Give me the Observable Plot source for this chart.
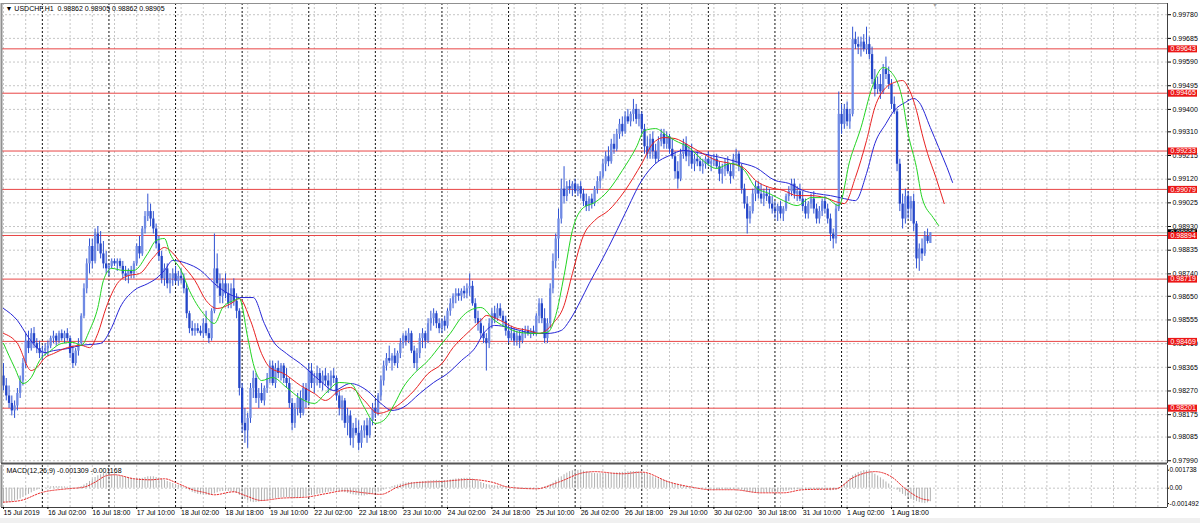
<!DOCTYPE html>
<html><head><meta charset="utf-8">
<script src="https://cdn.jsdelivr.net/npm/d3@7"></script>
<script src="https://cdn.jsdelivr.net/npm/@observablehq/plot@0.6"></script>
<style>
html,body{margin:0;padding:0;background:#fff;}
#chart{position:relative;width:1200px;height:523px;overflow:hidden;background:#fff;font-family:"Liberation Sans",Arial,sans-serif;}
#chart svg{position:absolute;left:0;}
#strip{position:absolute;left:0;top:518px;width:1200px;height:5px;background:#f0f0f0;}
</style></head><body><div id="chart"><div id="strip"></div></div>
<script>
// ---- data (prices in 1e-5 units, bar index 0 = 15 Jul 2019 10:00, H1) ----
const opens = [
98330,98290,98250,98220,98190,98210,98260,98310,98380,98470,
98440,98500,98460,98440,98420,98430,98440,98450,98480,98490,
98470,98500,98480,98500,98480,98420,98380,98430,98460,98570,
98680,98780,98850,98790,98900,98860,98820,98780,98760,98770,
98790,98780,98790,98770,98740,98730,98750,98740,98780,98850,
98820,98920,98970,98990,98960,98920,98860,98810,98720,98760,
98700,98720,98740,98710,98730,98720,98680,98580,98520,98510,
98520,98510,98500,98540,98500,98480,98590,98760,98700,98650,
98700,98660,98620,98680,98630,98590,98280,98140,98110,98160,
98280,98320,98240,98260,98230,98280,98320,98370,98300,98360,
98340,98370,98320,98300,98220,98140,98200,98240,98180,98280,
98230,98350,98300,98320,98340,98300,98330,98310,98290,98330,
98320,98250,98200,98230,98140,98170,98080,98120,98100,98060,
98110,98130,98090,98150,98200,98180,98250,98310,98370,98400,
98390,98410,98380,98420,98460,98490,98470,98500,98430,98380,
98420,98480,98500,98470,98540,98560,98580,98540,98520,98550,
98530,98590,98620,98650,98660,98650,98670,98660,98680,98690,
98620,98560,98540,98500,98480,98460,98540,98580,98560,98600,
98570,98550,98510,98480,98500,98470,98490,98470,98500,98510,
98500,98510,98500,98570,98620,98560,98480,98540,98680,98790,
98880,98960,99080,99050,99090,99080,99100,99070,99090,99060,
99030,99010,99040,99020,99080,99110,99130,99180,99210,99190,
99260,99240,99300,99340,99310,99370,99350,99380,99400,99360,
99380,99320,99250,99220,99280,99230,99200,99270,99300,99260,
99290,99240,99210,99150,99120,99220,99260,99210,99230,99180,
99200,99190,99170,99180,99200,99180,99190,99200,99170,99140,
99160,99180,99150,99130,99200,99220,99170,99080,99020,98960,
98990,99060,99090,99060,99040,99060,99050,99020,99000,98990,
99010,98980,99000,99050,99070,99100,99060,99070,99040,99010,
98980,99020,99040,99000,98960,98990,99030,99000,98960,98900,
98880,99000,99380,99340,99400,99350,99380,99680,99660,99650,
99670,99640,99660,99620,99520,99480,99500,99470,99560,99540,
99500,99420,99390,99180,99020,98960,99050,99000,99030,98940,
98800,98840,98820,98890,98862];
const highs = [
98380,98320,98290,98250,98230,98280,98330,98400,98500,98510,
98520,98525,98480,98470,98450,98460,98470,98490,98510,98500,
98510,98515,98510,98520,98490,98450,98440,98480,98580,98700,
98800,98880,98880,98920,98930,98910,98870,98830,98780,98800,
98800,98800,98800,98790,98770,98760,98770,98790,98860,98890,
98930,98990,99060,99020,98990,98940,98890,98830,98780,98780,
98740,98760,98770,98750,98760,98740,98700,98590,98550,98540,
98540,98530,98560,98590,98520,98600,98900,98820,98740,98720,
98740,98700,98700,98720,98660,98600,98300,98200,98180,98300,
98350,98340,98280,98300,98290,98340,98390,98390,98380,98390,
98380,98380,98360,98320,98240,98220,98260,98270,98300,98300,
98380,98380,98340,98370,98360,98350,98360,98340,98350,98360,
98330,98270,98250,98240,98200,98190,98140,98160,98150,98130,
98150,98160,98160,98220,98230,98260,98330,98390,98420,98450,
98420,98440,98430,98480,98500,98510,98520,98510,98450,98440,
98500,98520,98510,98560,98590,98600,98590,98560,98560,98570,
98600,98640,98660,98680,98680,98680,98690,98700,98740,98710,
98640,98590,98560,98530,98500,98560,98600,98610,98620,98620,
98590,98570,98540,98530,98520,98510,98510,98520,98530,98530,
98520,98530,98580,98640,98640,98600,98560,98700,98820,98900,
99000,99120,99170,99110,99115,99110,99120,99100,99110,99080,
99060,99050,99060,99090,99130,99150,99200,99230,99250,99280,
99300,99320,99360,99370,99390,99400,99390,99440,99420,99400,
99390,99340,99290,99300,99310,99260,99290,99320,99320,99310,
99300,99280,99230,99190,99240,99280,99290,99250,99260,99220,
99230,99210,99200,99210,99230,99210,99220,99220,99190,99180,
99200,99210,99180,99220,99240,99230,99180,99100,99050,99010,
99080,99110,99110,99100,99080,99090,99080,99050,99030,99020,
99030,99010,99060,99090,99120,99120,99090,99100,99070,99040,
99030,99060,99070,99020,99010,99040,99050,99020,98980,98920,
99020,99470,99420,99420,99430,99400,99730,99710,99690,99690,
99700,99730,99690,99650,99560,99530,99540,99580,99610,99570,
99520,99450,99400,99200,99060,99080,99070,99050,99060,98950,
98860,98880,98910,98920,98905];
const lows = [
98270,98230,98200,98170,98160,98190,98240,98290,98360,98420,
98430,98440,98420,98400,98390,98410,98410,98440,98460,98450,
98460,98470,98460,98470,98400,98360,98370,98410,98450,98560,
98660,98740,98760,98780,98830,98800,98760,98740,98730,98760,
98770,98750,98760,98720,98710,98700,98720,98720,98770,98800,
98810,98900,98950,98930,98900,98840,98790,98700,98690,98680,
98660,98690,98700,98690,98700,98660,98560,98500,98490,98490,
98500,98490,98480,98490,98460,98470,98580,98680,98620,98620,
98640,98600,98600,98610,98560,98250,98100,98060,98040,98140,
98240,98220,98200,98220,98210,98260,98300,98290,98280,98320,
98310,98300,98280,98200,98110,98120,98170,98160,98170,98200,
98210,98280,98260,98290,98280,98270,98290,98260,98270,98300,
98230,98170,98150,98120,98090,98050,98040,98090,98030,98040,
98080,98060,98080,98130,98160,98170,98230,98290,98350,98380,
98350,98370,98360,98400,98440,98450,98460,98420,98360,98350,
98400,98440,98440,98460,98510,98530,98520,98500,98500,98510,
98520,98570,98600,98620,98630,98630,98640,98640,98650,98610,
98540,98510,98480,98460,98350,98440,98520,98540,98550,98560,
98530,98490,98460,98470,98450,98450,98440,98460,98480,98490,
98480,98490,98490,98540,98540,98460,98460,98520,98660,98760,
98800,98940,99020,99030,99060,99050,99060,99050,99040,99010,
98990,98990,99000,99010,99060,99080,99120,99150,99170,99180,
99220,99230,99280,99290,99300,99340,99330,99350,99340,99330,
99300,99220,99200,99200,99200,99180,99190,99250,99240,99240,
99220,99200,99120,99080,99110,99200,99190,99170,99160,99150,
99170,99150,99140,99160,99170,99150,99170,99160,99110,99100,
99130,99140,99100,99120,99180,99150,99060,99000,98900,98940,
98980,99030,99040,99020,99010,99030,99000,98980,98960,98950,
98960,98950,98990,99030,99050,99040,99030,99030,98990,98960,
98960,99000,98980,98940,98940,98970,98980,98940,98870,98840,
98860,98990,99300,99320,99330,99320,99370,99640,99620,99610,
99630,99620,99600,99500,99450,99460,99440,99460,99520,99480,
99400,99380,99150,98990,98920,98940,98960,98950,98910,98760,
98750,98790,98810,98860,98862];
const closes = [
98290,98250,98220,98190,98210,98260,98310,98380,98470,98440,
98500,98460,98440,98420,98430,98440,98450,98480,98490,98470,
98500,98480,98500,98480,98420,98380,98430,98460,98570,98680,
98780,98850,98790,98900,98860,98820,98780,98760,98770,98790,
98780,98790,98770,98740,98730,98750,98740,98780,98850,98820,
98920,98970,98990,98960,98920,98860,98810,98720,98760,98700,
98720,98740,98710,98730,98720,98680,98580,98520,98510,98520,
98510,98500,98540,98500,98480,98590,98760,98700,98650,98700,
98660,98620,98680,98630,98590,98280,98140,98110,98160,98280,
98320,98240,98260,98230,98280,98320,98370,98300,98360,98340,
98370,98320,98300,98220,98140,98200,98240,98180,98280,98230,
98350,98300,98320,98340,98300,98330,98310,98290,98330,98320,
98250,98200,98230,98140,98170,98080,98120,98100,98060,98110,
98130,98090,98150,98200,98180,98250,98310,98370,98400,98390,
98410,98380,98420,98460,98490,98470,98500,98430,98380,98420,
98480,98500,98470,98540,98560,98580,98540,98520,98550,98530,
98590,98620,98650,98660,98650,98670,98660,98680,98690,98620,
98560,98540,98500,98480,98460,98540,98580,98560,98600,98570,
98550,98510,98480,98500,98470,98490,98470,98500,98510,98500,
98510,98500,98570,98620,98560,98480,98540,98680,98790,98880,
98960,99080,99050,99090,99080,99100,99070,99090,99060,99030,
99010,99040,99020,99080,99110,99130,99180,99210,99190,99260,
99240,99300,99340,99310,99370,99350,99380,99400,99360,99380,
99320,99250,99220,99280,99230,99200,99270,99300,99260,99290,
99240,99210,99150,99120,99220,99260,99210,99230,99180,99200,
99190,99170,99180,99200,99180,99190,99200,99170,99140,99160,
99180,99150,99130,99200,99220,99170,99080,99020,98960,98990,
99060,99090,99060,99040,99060,99050,99020,99000,98990,99010,
98980,99000,99050,99070,99100,99060,99070,99040,99010,98980,
99020,99040,99000,98960,98990,99030,99000,98960,98900,98880,
99000,99380,99340,99400,99350,99380,99680,99660,99650,99670,
99640,99660,99620,99520,99480,99500,99470,99560,99540,99500,
99420,99390,99180,99020,98960,99050,99000,99030,98940,98800,
98840,98820,98890,98870,98905];

// Alligator lines: [bar, price x1e5]
const jaw = [[0,98601],[5,98553],[9,98485],[12,98444],[15,98424],[18,98432],[23,98440],[28,98453],[35,98461],[39,98525],[42,98605],[47,98673],[52,98701],[55,98721],[58,98754],[61,98794],[66,98782],[71,98754],[76,98701],[81,98661],[85,98645],[90,98645],[94,98541],[97,98473],[102,98420],[107,98380],[114,98312],[119,98272],[125,98300],[131,98272],[136,98220],[140,98192],[144,98204],[150,98260],[155,98304],[160,98340],[165,98392],[170,98444],[173,98501],[177,98533],[182,98525],[186,98513],[191,98501],[196,98501],[201,98513],[204,98553],[208,98633],[211,98700],[215,98782],[218,98846],[224,98982],[230,99115],[235,99183],[240,99215],[245,99235],[250,99227],[255,99215],[260,99203],[265,99187],[271,99167],[278,99115],[283,99103],[288,99075],[293,99062],[298,99054],[303,99042],[307,99034],[311,99143],[314,99263],[318,99343],[321,99396],[325,99428],[328,99444],[330,99428],[334,99327],[337,99247],[340,99167],[342,99107]];
const teeth = [[0,98501],[5,98461],[10,98352],[12,98364],[15,98404],[18,98420],[23,98444],[28,98453],[31,98444],[34,98501],[37,98605],[41,98701],[45,98733],[49,98741],[54,98806],[58,98846],[60,98834],[64,98782],[69,98713],[73,98633],[77,98601],[82,98621],[85,98641],[89,98553],[93,98420],[96,98364],[101,98340],[107,98292],[112,98260],[116,98232],[121,98272],[125,98284],[130,98232],[135,98180],[139,98192],[143,98220],[148,98272],[153,98340],[158,98380],[162,98444],[167,98501],[172,98553],[174,98573],[179,98553],[184,98525],[189,98513],[193,98501],[198,98541],[202,98613],[205,98741],[209,98894],[213,98954],[218,98994],[224,99075],[230,99183],[234,99263],[238,99287],[242,99283],[247,99255],[252,99223],[257,99195],[262,99183],[267,99163],[271,99115],[276,99087],[281,99075],[286,99054],[291,99054],[296,99046],[301,99026],[303,99022],[307,99127],[311,99275],[314,99408],[318,99488],[321,99508],[324,99516],[326,99488],[329,99396],[331,99303],[333,99223],[336,99127],[339,99022]];
const lips = [[0,98461],[4,98364],[7,98300],[10,98324],[13,98392],[17,98432],[21,98461],[25,98465],[28,98453],[31,98513],[34,98605],[36,98713],[39,98762],[43,98754],[47,98754],[52,98822],[55,98874],[58,98882],[60,98822],[64,98754],[67,98673],[72,98581],[76,98541],[79,98605],[83,98633],[85,98641],[88,98485],[90,98380],[93,98312],[97,98324],[102,98284],[107,98240],[112,98220],[116,98260],[121,98304],[125,98300],[130,98204],[134,98140],[137,98152],[141,98220],[144,98284],[148,98340],[153,98392],[158,98461],[161,98501],[165,98565],[168,98593],[172,98605],[177,98553],[182,98521],[186,98505],[191,98501],[196,98505],[199,98573],[202,98733],[205,98914],[209,99006],[213,99026],[218,99075],[223,99155],[228,99247],[231,99315],[235,99323],[239,99295],[242,99275],[247,99247],[252,99195],[257,99163],[262,99183],[267,99155],[271,99087],[276,99062],[281,99034],[286,99014],[291,99046],[296,99046],[301,99014],[305,99195],[309,99327],[313,99488],[317,99568],[320,99548],[324,99436],[326,99303],[329,99167],[331,99046],[335,98966],[337,98934]];

// MACD(12,26,9) main line per bar (x1e-6) and signal line read at points [bar, x1e-6]
const macdMain = [
-1490,-1450,-1400,-1330,-1250,-1150,-1050,-900,-750,-600,
-450,-320,-200,-110,-20,40,100,130,150,150,
150,140,120,90,60,40,20,80,150,300,
450,650,850,1030,1200,1300,1400,1390,1380,1310,
1250,1200,1150,1100,1050,1000,950,920,900,920,
950,1030,1100,1100,1100,1030,950,850,750,650,
550,450,350,270,200,50,-100,-250,-400,-500,
-600,-630,-650,-680,-700,-630,-550,-450,-350,-320,
-300,-320,-350,-420,-500,-700,-900,-1080,-1250,-1330,
-1400,-1380,-1350,-1300,-1250,-1180,-1100,-1050,-1000,-980,
-950,-930,-900,-950,-1000,-1000,-1000,-950,-900,-830,
-750,-700,-650,-600,-550,-500,-450,-400,-350,-330,
-300,-320,-350,-430,-500,-580,-650,-700,-750,-750,
-750,-700,-650,-580,-500,-400,-300,-180,-50,50,
150,230,300,380,450,500,550,550,550,580,
600,630,650,680,700,730,750,730,700,730,
750,800,850,880,900,930,950,950,950,880,
800,680,550,450,350,300,250,230,200,180,
150,100,50,0,-50,-80,-100,-100,-100,-100,
-100,-80,-50,0,50,120,200,350,500,700,
900,1100,1300,1450,1600,1680,1738,1720,1700,1650,
1600,1530,1450,1420,1400,1400,1400,1400,1400,1420,
1450,1480,1500,1530,1550,1580,1600,1600,1600,1550,
1500,1400,1300,1200,1100,1000,900,830,750,680,
600,480,350,300,250,200,150,100,50,30,
0,-30,-50,-80,-100,-100,-100,-130,-150,-150,
-150,-150,-150,-130,-100,-150,-200,-300,-400,-430,
-450,-450,-450,-450,-450,-450,-450,-450,-450,-430,
-400,-350,-300,-250,-200,-180,-150,-150,-150,-150,
-150,-150,-150,-150,-150,-150,-150,-200,-250,-230,
-200,-50,100,400,700,950,1200,1350,1500,1600,
1700,1680,1650,1500,1350,1180,1000,800,600,400,
200,0,-200,-400,-600,-780,-950,-1080,-1200,-1300,
-1400,-1450,-1492,-1420,-1309];
const macdSignal = [[0,-1350],[6,-1200],[14,-400],[23,-60],[29,100],[33,580],[37,1200],[40,1300],[47,910],[53,810],[58,910],[63,430],[69,-220],[72,-390],[76,-640],[83,-350],[87,-700],[93,-1190],[100,-970],[109,-870],[116,-540],[123,-250],[130,-450],[136,-600],[142,100],[148,520],[158,650],[168,840],[176,580],[182,100],[192,-60],[200,580],[209,1500],[213,1600],[223,1390],[230,1550],[240,580],[248,100],[255,-150],[263,-150],[273,-450],[281,-450],[288,-150],[300,-60],[306,1000],[314,1600],[320,1100],[325,-60],[331,-1030],[334,-1168]];

// horizontal levels, axis ticks, time labels
const levels = [0.99643, 0.99465, 0.99233, 0.99079, 0.98894, 0.98719, 0.98469, 0.98201];
const priceTicks = [0.99780,0.99685,0.99590,0.99495,0.99400,0.99310,0.99215,0.99120,0.99025,0.98930,0.98835,0.98740,0.98650,0.98555,0.98460,0.98365,0.98270,0.98175,0.98085,0.97990];
const dateLabels = ["15 Jul 2019","16 Jul 02:00","16 Jul 18:00","17 Jul 10:00","18 Jul 02:00","18 Jul 18:00","19 Jul 10:00","22 Jul 02:00","22 Jul 18:00","23 Jul 10:00","24 Jul 02:00","24 Jul 18:00","25 Jul 10:00","26 Jul 02:00","26 Jul 18:00","29 Jul 10:00","30 Jul 02:00","30 Jul 18:00","31 Jul 10:00","1 Aug 02:00","1 Aug 18:00"];
const dateLabelBars = [0,16,32,48,64,80,96,112,128,144,160,176,192,208,224,240,256,272,288,304,320];
const daySeparators = [14,38,62,86,110,134,158,182,206,230,254,278,302,326,350];
const symbolName = "USDCHF,H1";
const macdName = "MACD(12,26,9)";

// ---- layout ----
const X0 = 3, BW = 2.775;
const px2bar = px => (px - X0) / BW;
const PMIN = 0.97983, PMAX = 0.99825, YTOP = 3, YBOT = 462;
const py2price = py => PMAX - (py - YTOP) * (PMAX - PMIN) / (YBOT - YTOP);
const MMIN = -0.001492, MMAX = 0.001738, MY0 = 39.1, MY1 = 5.7;
const my2val = py => MMIN + (MY0 - py) * (MMAX - MMIN) / (MY0 - MY1);
const gridBars = d3.range(0, px2bar(1166), 8);
const xOpts = {type: "linear", domain: [px2bar(0), px2bar(1200)], range: [0, 1200], axis: null};
const style = {fontFamily: "'Liberation Sans', Arial, sans-serif", fontSize: "7px", color: "#000", background: "transparent", overflow: "visible"};

const candles = closes.map((c, i) => ({i, o: opens[i] / 1e5, h: highs[i] / 1e5, l: lows[i] / 1e5, c: c / 1e5}));
const last = candles[candles.length - 1];
const f5 = v => v.toFixed(5);
const title = `▼ ${symbolName}  ${f5(last.o)} ${f5(last.h)} ${f5(last.l)} ${f5(last.c)}`;
const gridStroke = "#c6c6c6";
const boxX1 = () => px2bar(1168), boxX2 = () => px2bar(1197);

const main = Plot.plot({
  width: 1200, height: 464,
  marginTop: 3, marginBottom: 1, marginLeft: 1, marginRight: 33,
  x: xOpts,
  y: {domain: [PMIN, PMAX], range: [YBOT, YTOP], axis: null},
  style,
  marks: [
    Plot.ruleX(gridBars, {x: d => d, stroke: gridStroke, strokeDasharray: "2,2"}),
    Plot.ruleY(priceTicks, {y: d => d, stroke: gridStroke, strokeDasharray: "2,2"}),
    Plot.ruleX(daySeparators, {x: d => d, stroke: "#111", strokeDasharray: "2,2"}),
    Plot.ruleY(levels, {y: d => d, stroke: "#e84545"}),
    Plot.ruleY([last.c], {y: d => d, stroke: "#b8c0b8"}),
    Plot.ruleX(candles, {x: "i", y1: "l", y2: "h", stroke: "#2f52d2"}),
    Plot.ruleX(candles, {x: "i", y1: "o", y2: "c", stroke: d => d.c >= d.o ? "#6f8ae4" : "#2446c8", strokeWidth: 2.3}),
    Plot.line(jaw, {x: d => d[0], y: d => d[1] / 1e5, stroke: "#2626d6", strokeWidth: 1, curve: "monotone-x"}),
    Plot.line(teeth, {x: d => d[0], y: d => d[1] / 1e5, stroke: "#e82222", strokeWidth: 1, curve: "monotone-x"}),
    Plot.line(lips, {x: d => d[0], y: d => d[1] / 1e5, stroke: "#22d422", strokeWidth: 1, curve: "monotone-x"}),
    // pane borders
    Plot.ruleX([px2bar(1)], {x: d => d, stroke: "#909090", strokeWidth: 2}),
    Plot.ruleY([py2price(3)], {y: d => d, stroke: "#909090"}),
    Plot.ruleX([px2bar(1167)], {x: d => d, stroke: "#404040"}),
    Plot.ruleY([py2price(463)], {y: d => d, stroke: "#555", strokeWidth: 2}),
    Plot.axisY(priceTicks, {anchor: "right", tickSize: 3, tickPadding: 2, tickFormat: f5, fontSize: 7}),
    // current price tag and level tags
    Plot.ruleY([last.c], {y: d => d, x1: boxX1, x2: boxX2, stroke: "#000", strokeWidth: 7}),
    Plot.text([last.c], {y: d => d, x: () => px2bar(1170), text: f5, fill: "#fff", textAnchor: "start", fontSize: 7}),
    Plot.ruleY(levels, {y: d => d, x1: boxX1, x2: boxX2, stroke: "#ec1616", strokeWidth: 7}),
    Plot.text(levels, {y: d => d, x: () => px2bar(1170), text: f5, fill: "#fff", textAnchor: "start", fontSize: 7}),
    Plot.text([title], {x: () => px2bar(5), y: () => py2price(8.5), text: d => d, textAnchor: "start", fontSize: 7, fill: "#000"}),
    Plot.text(["▼"], {x: () => px2bar(934.5), y: () => py2price(4.5), text: d => d, fontSize: 6, fill: "#a0a0a0"})
  ]
});
main.style.top = "0px";

const macdTitle = `${macdName} ${(macdMain[macdMain.length - 1] / 1e6).toFixed(6)} ${(macdSignal[macdSignal.length - 1][1] / 1e6).toFixed(6)}`;
const macd = Plot.plot({
  width: 1200, height: 59,
  marginTop: 1, marginBottom: 16, marginLeft: 1, marginRight: 33,
  x: xOpts,
  y: {domain: [MMIN, MMAX], range: [MY0, MY1], axis: null},
  style,
  marks: [
    Plot.ruleX(gridBars, {x: d => d, stroke: gridStroke, strokeDasharray: "2,2"}),
    Plot.ruleY([0], {y: d => d, stroke: gridStroke, strokeDasharray: "2,2"}),
    Plot.ruleX(daySeparators, {x: d => d, stroke: "#111", strokeDasharray: "2,2"}),
    Plot.ruleX(macdMain, {x: (d, i) => i, y1: () => 0, y2: d => d / 1e6, stroke: "#b0b0b0"}),
    Plot.line(macdSignal, {x: d => d[0], y: d => d[1] / 1e6, stroke: "#e82a2a", strokeWidth: 1, strokeDasharray: "1.5,1.5", curve: "monotone-x"}),
    Plot.ruleX([px2bar(1)], {x: d => d, stroke: "#909090", strokeWidth: 2}),
    Plot.ruleX([px2bar(1167)], {x: d => d, stroke: "#404040"}),
    Plot.ruleY([my2val(43)], {y: d => d, stroke: "#404040"}),
    Plot.axisY([MMAX, 0, MMIN], {anchor: "right", tickSize: 1, tickPadding: 1, fontSize: 6.5, tickFormat: d => d === 0 ? "0.00" : d.toFixed(6)}),
    Plot.axisX(dateLabelBars, {anchor: "bottom", tickSize: 2, tickPadding: 1, textAnchor: "start", fontSize: 7, tickFormat: d => dateLabels[dateLabelBars.indexOf(d)]}),
    Plot.text([macdTitle], {x: () => px2bar(6), y: () => my2val(6.7), text: d => d, textAnchor: "start", fontSize: 7, fill: "#000"})
  ]
});
macd.style.top = "464px";

const chart = document.getElementById("chart");
chart.appendChild(main);
chart.appendChild(macd);
</script></body></html>
